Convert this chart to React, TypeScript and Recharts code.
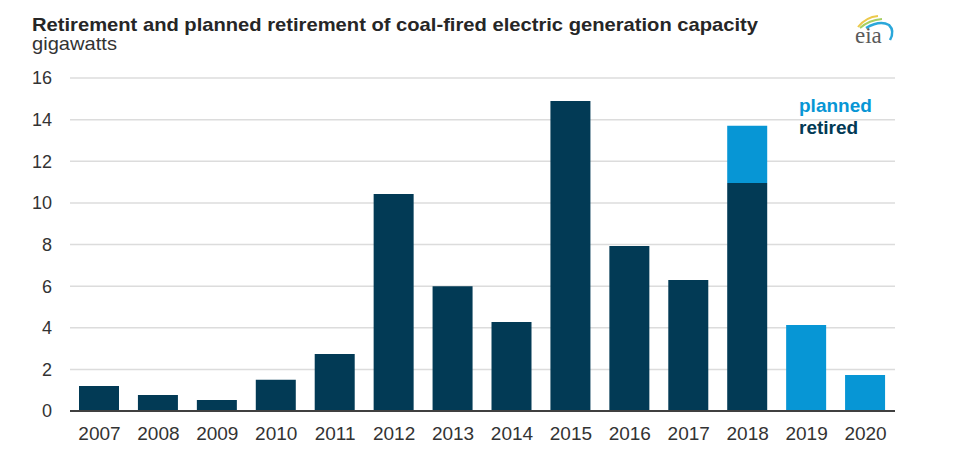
import { Bar, BarChart, CartesianGrid, XAxis, YAxis } from "recharts";

const years = ["2007", "2008", "2009", "2010", "2011", "2012", "2013", "2014", "2015", "2016", "2017", "2018", "2019", "2020"];
const retired = [1.2, 0.77, 0.53, 1.5, 2.74, 10.43, 6.0, 4.28, 14.9, 7.93, 6.3, 10.96, null, null];
const planned = [null, null, null, null, null, null, null, null, null, null, null, 2.74, 4.13, 1.73];
const yTicks = [0, 2, 4, 6, 8, 10, 12, 14, 16];

const DARK = "#023a55";
const LIGHT = "#0796d5";
const FONT = "'Liberation Sans', Arial, sans-serif";

const data = years.map((year, i) => ({ year, retired: retired[i], planned: planned[i] }));

function Overlay() {
    return (
        <svg width={958} height={450} style={{ position: "absolute", left: 0, top: 0, pointerEvents: "none" }}>
            <text x={32} y={31} fontFamily={FONT} fontWeight="bold" fontSize={19} fill="#262626" textLength={726} lengthAdjust="spacingAndGlyphs">
                Retirement and planned retirement of coal-fired electric generation capacity
            </text>
            <text x={32} y={50} fontFamily={FONT} fontSize={19} fill="#333" textLength={85} lengthAdjust="spacingAndGlyphs">
                gigawatts
            </text>
            <text x={799} y={112} fontFamily={FONT} fontWeight="bold" fontSize={19} fill={LIGHT}>planned</text>
            <text x={799} y={134} fontFamily={FONT} fontWeight="bold" fontSize={19} fill={DARK}>retired</text>
            {/* eia logo */}
            <path d="M858 27 Q866 17 878 16" stroke="#ecc94b" strokeWidth={2} fill="none" />
            <path d="M860 28 Q869 20 882 19" stroke="#a5cf63" strokeWidth={2} fill="none" />
            <path d="M866 28 Q880 20 889 25 Q895 31 890 40" stroke="#2aa7da" strokeWidth={2.5} fill="none" />
            <text x={855} y={43} fontFamily="'Liberation Serif', serif" fontSize={23} fill="#5a5a5a">eia</text>
        </svg>
    );
}

export default function App() {
    return (
        <div style={{ position: "absolute", left: 0, top: 0, width: 958, height: 450, background: "#fff" }}>
            <BarChart width={958} height={450} data={data} margin={{ top: 78, right: 63, bottom: 0, left: 20 }} barSize={40}>
                <CartesianGrid vertical={false} stroke="#dcdcdc" strokeWidth={1.5} />
                <XAxis
                    dataKey="year"
                    height={39}
                    tickLine={false}
                    tickSize={0}
                    tickMargin={16}
                    axisLine={{ stroke: "#404040", strokeWidth: 2 }}
                    tick={{ fill: "#333", fontSize: 19, fontFamily: FONT }}
                    interval={0}
                />
                <YAxis
                    width={50}
                    domain={[0, 16]}
                    ticks={yTicks}
                    axisLine={false}
                    tickLine={false}
                    tickSize={0}
                    tickMargin={18}
                    tick={{ fill: "#333", fontSize: 18, fontFamily: FONT }}
                />
                <Bar dataKey="retired" stackId="a" fill={DARK} isAnimationActive={false} />
                <Bar dataKey="planned" stackId="a" fill={LIGHT} isAnimationActive={false} />
            </BarChart>
            <Overlay />
        </div>
    );
}
